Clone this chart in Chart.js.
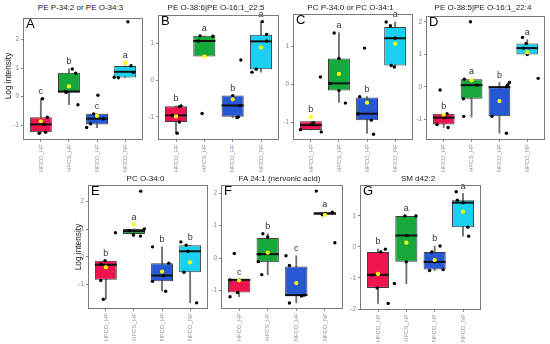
<!DOCTYPE html>
<html><head><meta charset="utf-8">
<script src="https://cdn.jsdelivr.net/npm/chart.js@4/dist/chart.umd.min.js"></script>
<style>
html,body{margin:0;padding:0;background:#fff;}
#wrap{position:relative;width:550px;height:344px;overflow:hidden;font-family:"Liberation Sans",Arial,sans-serif;}
canvas{position:absolute;}
.t{position:absolute;font-size:8px;line-height:8px;color:#1a1a1a;white-space:nowrap;transform:translateX(-50%);}
.L{position:absolute;font-size:13px;line-height:13px;color:#000;}
.yt{position:absolute;font-size:8.3px;line-height:9px;color:#1a1a1a;white-space:nowrap;transform:translate(-50%,-50%) rotate(-90deg);}
</style></head><body><div id="wrap"></div>
<script>
// ---------------- data ----------------
const groups = ["HFCO_HF", "HFCS_HF", "NFCO_HF", "NFCO_NF"];
const titles = ["PE P-34:2 or PE O-34:3", "PE O-38:6|PE O-16:1_22:5", "PC P-34:0 or PC O-34:1",
  "PE O-38:5|PE O-16:1_22:4", "PC O-34:0", "FA 24:1 (nervonic acid)", "SM d42:2"];
const panelLetters = ["A", "B", "C", "D", "E", "F", "G"];
const yAxisTitle = "Log intensity";

// box lower / upper hinge, median, whiskers, mean (per panel, per group)
const q1 = [[-1.24, 0.15, -0.97, 0.67], [-1.14, 0.65, -1.0, 0.3], [-1.21, -0.17, -0.95, 0.49],
  [-1.16, -0.37, -0.91, 0.99], [-0.83, 0.83, -0.89, -0.56], [-1.06, -0.13, -1.17, 1.33], [-1.32, -0.48, -0.73, 0.64]];
const q3 = [[-0.72, 0.84, -0.6, 1.07], [-0.71, 1.21, -0.42, 1.24], [-0.98, 0.675, -0.35, 1.51],
  [-0.83, 0.23, 0.0, 1.33], [-0.14, 1.01, -0.23, 0.42], [-0.67, 0.62, -0.26, 1.41], [-0.16, 1.0, -0.16, 1.51]];
const median = [[-0.97, 0.18, -0.77, 0.87], [-0.96, 1.07, -0.69, 1.06], [-1.08, 0.02, -0.78, 1.21],
  [-0.95, 0.05, -0.01, 1.19], [-0.29, 0.93, -0.68, 0.2], [-0.67, 0.12, -1.14, 1.37], [-0.9, 0.37, -0.48, 1.43]];
const whiskerLo = [[-1.28, -0.28, -1.08, 0.66], [-1.45, 0.65, -1.02, 0.22], [-1.21, -0.48, -1.3, 0.45],
  [-1.25, -0.93, -1.43, 0.99], [-1.54, 0.75, -1.25, -1.67], [-1.19, -0.51, -1.38, 1.33], [-1.82, -1.18, -0.76, 0.35]];
const whiskerHi = [[-0.07, 0.97, -0.6, 1.08], [-0.7, 1.21, -0.42, 1.6], [-0.98, 1.35, -0.33, 1.64],
  [-0.83, 0.23, 0.13, 1.45], [-0.14, 1.01, 0.36, 0.42], [-0.67, 0.75, 0.07, 1.41], [-0.07, 1.0, 0.03, 1.72]];
const means = [[-0.86, 0.36, -0.67, 1.18], [-0.99, 0.65, -0.52, 0.89], [-0.87, 0.27, -0.49, 1.07],
  [-0.86, 0.2, -0.44, 1.06], [-0.38, 1.17, -0.54, -0.2], [-0.69, 0.17, -0.77, 1.33], [-0.87, 0.14, -0.42, 1.14]];
const sigLetters = [["c", "b", "c", "a"], ["b", "a", "b", "a"], ["b", "a", "b", "a"], ["b", "a", "b", "a"],
  ["b", "a", "b", "b"], ["c", "b", "c", "a"], ["b", "a", "b", "a"]];

// individual samples (log intensity)
const samples = [
  [[-0.07, -0.72, -0.97, -1.24, -1.28], [0.97, 0.82, 0.18, 0.15, -0.28], [0.05, -0.6, -0.77, -0.95, -1.08], [2.62, 1.08, 0.85, 0.66, 0.68]],
  [[-0.7, -0.72, -0.96, -1.14, -1.45], [1.21, 1.2, 1.07, 0.66, -0.91], [0.55, -0.42, -0.69, -1.0, -1.02], [1.6, 1.25, 1.07, 0.3, 0.22]],
  [[-1.2, -1.02, -1.06, -1.26, 0.19], [1.35, 0.675, 0.02, -0.17, -0.5], [-0.33, -0.78, -0.95, -1.32, 0.95], [1.64, 1.54, 1.21, 0.49, 0.45]],
  [[-1.16, -0.95, -0.83, -1.25, -0.1], [0.23, 0.05, -0.37, -0.91, 2.0], [-0.91, 0.0, 0.06, 0.13, -1.43], [1.52, 1.33, 1.19, 0.99, 0.26]],
  [[-0.26, -0.14, -0.86, -1.54, 0.87], [0.95, 0.79, 0.75, 1.01, 2.38], [0.36, -0.23, -0.68, -0.89, -1.25], [0.54, 0.42, 0.2, -0.56, -1.67]],
  [[0.14, -0.67, -0.68, -1.06, -1.19], [0.75, 0.65, 0.12, -0.11, -0.51], [0.07, -0.23, -1.17, -1.14, -1.38], [2.06, 1.33, 1.37, 1.41, 0.47]],
  [[-0.07, -0.16, -0.9, -1.32, -1.82], [1.0, 1.0, 0.37, -0.48, -1.18], [0.03, -0.16, -0.48, -0.73, -0.76], [1.78, 1.51, 1.43, 0.64, 0.35]]
];
// horizontal jitter of each sample (fraction of a category step)
const jitter = [
  [[0.06, 0.23, 0.11, 0.17, -0.06], [0.12, 0.24, -0.12, -0.1, 0.32], [0.03, -0.12, 0.22, -0.23, -0.37], [0.1, 0.21, 0.29, -0.24, -0.39]],
  [[0.18, 0.12, -0.13, 0.12, 0.04], [-0.15, 0.3, -0.2, 0, -0.08], [0.29, 0, 0.26, 0.2, 0.15], [0.05, 0.2, 0.2, -0.17, -0.32]],
  [[-0.37, 0.09, 0.03, 0.37, 0.34], [-0.17, 0, -0.32, 0, 0.23], [-0.26, -0.32, 0.15, 0.23, -0.09], [-0.32, -0.17, 0, -0.14, -0.03]],
  [[-0.24, 0.04, 0.12, 0.16, -0.13], [-0.26, 0.19, -0.29, -0.28, -0.04], [-0.27, 0.25, 0.3, 0.36, 0.25], [-0.17, -0.04, -0.14, 0.0, 0.39]],
  [[-0.17, -0.03, -0.18, -0.09, 0.34], [-0.17, -0.02, 0.23, 0.37, 0.24], [-0.34, 0.24, 0.05, -0.34, 0.13], [-0.33, -0.14, -0.07, -0.22, 0.23]],
  [[-0.17, -0.32, 0.02, -0.06, -0.32], [-0.17, 0, -0.3, -0.33, -0.21], [-0.36, -0.24, 0.18, 0.27, -0.24], [-0.3, -0.09, 0, 0.26, 0.35]],
  [[0.26, 0.1, -0.2, -0.03, 0.36], [-0.05, 0.34, 0.02, 0.0, -0.42], [0.19, -0.1, 0.0, 0.3, -0.18], [-0.24, -0.2, 0, 0.17, 0.2]]
];
// y-axis ranges
const yMin = [-1.48, -1.605, -1.447, -1.606, -1.857, -1.536, -2.0];
const yMax = [2.72, 1.755, 1.826, 2.15, 2.57, 2.22, 1.97];

// ---------------- layout / style ----------------
const plots = [[24, 17, 143, 139], [159, 14, 279, 139], [294, 13, 413, 139], [427, 15, 545, 139],
  [89, 184, 208, 308], [222, 184, 343, 308], [361, 184, 481, 309]];
const fills = ['#EF1450', '#17A83B', '#2558D2', '#19D0F0'];
const FONT = '"Liberation Sans", Arial, sans-serif';
const wrap = document.getElementById('wrap');

const framePlugin = {
  id: 'frame',
  afterDraw(c) {
    const a = c.chartArea, x = c.ctx;
    x.save(); x.strokeStyle = '#7a7a7a'; x.lineWidth = 1;
    x.strokeRect(Math.round(a.left) - 0.5, Math.round(a.top) - 0.5, Math.round(a.right - a.left) + 1, Math.round(a.bottom - a.top) + 1);
    x.restore();
  }
};
const sigPlugin = {
  id: 'sig',
  afterDatasetsDraw(c, args, opts) {
    const p = opts.panel; if (p === undefined) return;
    const x = c.ctx, xs = c.scales.x, ys = c.scales.y;
    x.save(); x.fillStyle = '#333'; x.font = '9px ' + FONT; x.textAlign = 'center'; x.textBaseline = 'alphabetic';
    for (let i = 0; i < 4; i++) {
      const top = Math.max(whiskerHi[p][i], q3[p][i], means[p][i]);
      x.fillText(sigLetters[p][i], xs.getPixelForValue(i), ys.getPixelForValue(top) - 5);
    }
    x.restore();
  }
};

function addText(cls, txt, left, top) {
  const d = document.createElement('div'); d.className = cls; d.textContent = txt;
  d.style.left = left + 'px'; d.style.top = top + 'px'; wrap.appendChild(d);
}

function makePanel(p) {
  const [L, T, R, B] = plots[p];
  const AX = 22, PT = 4, PR = 3, XH = 36;
  const W = R - L + AX + PR, H = B - T + PT + XH;
  const cv = document.createElement('canvas');
  cv.width = W; cv.height = H;
  cv.style.left = (L - AX) + 'px'; cv.style.top = (T - PT) + 'px';
  cv.style.width = W + 'px'; cv.style.height = H + 'px';
  wrap.appendChild(cv);
  const idx = [0, 1, 2, 3];
  const pts = [];
  idx.forEach(i => samples[p][i].forEach((v, k) => pts.push({ x: i + jitter[p][i][k], y: v })));
  const halfBox = ctx => { const s = ctx.chart.scales.x; return (s.getPixelForValue(1) - s.getPixelForValue(0)) * 0.78 / 2; };
  new Chart(cv, {
    type: 'bar',
    data: {
      datasets: [
        { type: 'bar', data: idx.map(i => ({ x: i, y: [whiskerLo[p][i], whiskerHi[p][i]] })), backgroundColor: '#707070',
          barThickness: 1.2, grouped: false, order: 5 },
        { type: 'bar', data: idx.map(i => ({ x: i, y: [q1[p][i], q3[p][i]] })), backgroundColor: fills, borderColor: '#3c3c3c',
          borderWidth: 1, borderSkipped: false, grouped: false, barPercentage: 0.78, categoryPercentage: 1, order: 4 },
        { type: 'scatter', data: idx.map(i => ({ x: i, y: median[p][i] })), pointStyle: 'line', pointRadius: halfBox,
          pointBorderColor: '#111', pointBorderWidth: 2, borderColor: '#111', order: 3 },
        { type: 'scatter', data: pts, pointRadius: 1.7, pointBackgroundColor: '#000', pointBorderWidth: 0, borderWidth: 0, order: 2 },
        { type: 'scatter', data: idx.map(i => ({ x: i, y: means[p][i] })), pointRadius: 2.1, pointBackgroundColor: '#ffff00',
          pointBorderWidth: 0, borderWidth: 0, order: 1 }
      ]
    },
    options: {
      responsive: false, animation: false, devicePixelRatio: 1, events: [],
      layout: { padding: { top: PT, right: PR, left: 0, bottom: 0 } },
      plugins: { legend: { display: false }, tooltip: { enabled: false }, sig: { panel: p } },
      scales: {
        x: {
          type: 'linear', min: -0.6, max: 3.6, offset: false,
          grid: { display: true, drawOnChartArea: false, drawTicks: true, tickLength: 3, color: '#888', offset: false },
          border: { display: false },
          afterBuildTicks: s => { s.ticks = idx.map(v => ({ value: v })); },
          afterFit: s => { s.height = XH; },
          ticks: { autoSkip: false, minRotation: 90, maxRotation: 90, padding: 2, color: '#8d90a6',
            font: { size: 6, family: FONT }, callback: v => groups[v] }
        },
        y: {
          type: 'linear', min: yMin[p], max: yMax[p],
          grid: { display: true, drawOnChartArea: false, tickLength: 3, color: '#888' },
          border: { display: false },
          afterBuildTicks: s => { const t = []; for (let v = Math.ceil(s.min); v <= Math.floor(s.max); v++) t.push({ value: v }); s.ticks = t; },
          afterFit: s => { s.width = AX; },
          ticks: { padding: 2, color: '#888', font: { size: 6.5, family: FONT }, callback: v => String(v) }
        }
      }
    },
    plugins: [framePlugin, sigPlugin]
  });
  addText('t', titles[p], (L + R) / 2 - 3, p < 4 ? 4 : 175);
  addText('L', panelLetters[p], L + 2, T);
}

for (let p = 0; p < 7; p++) makePanel(p);
addText('yt', yAxisTitle, 8, 76);
addText('yt', yAxisTitle, 78, 247);
</script>
</body></html>
